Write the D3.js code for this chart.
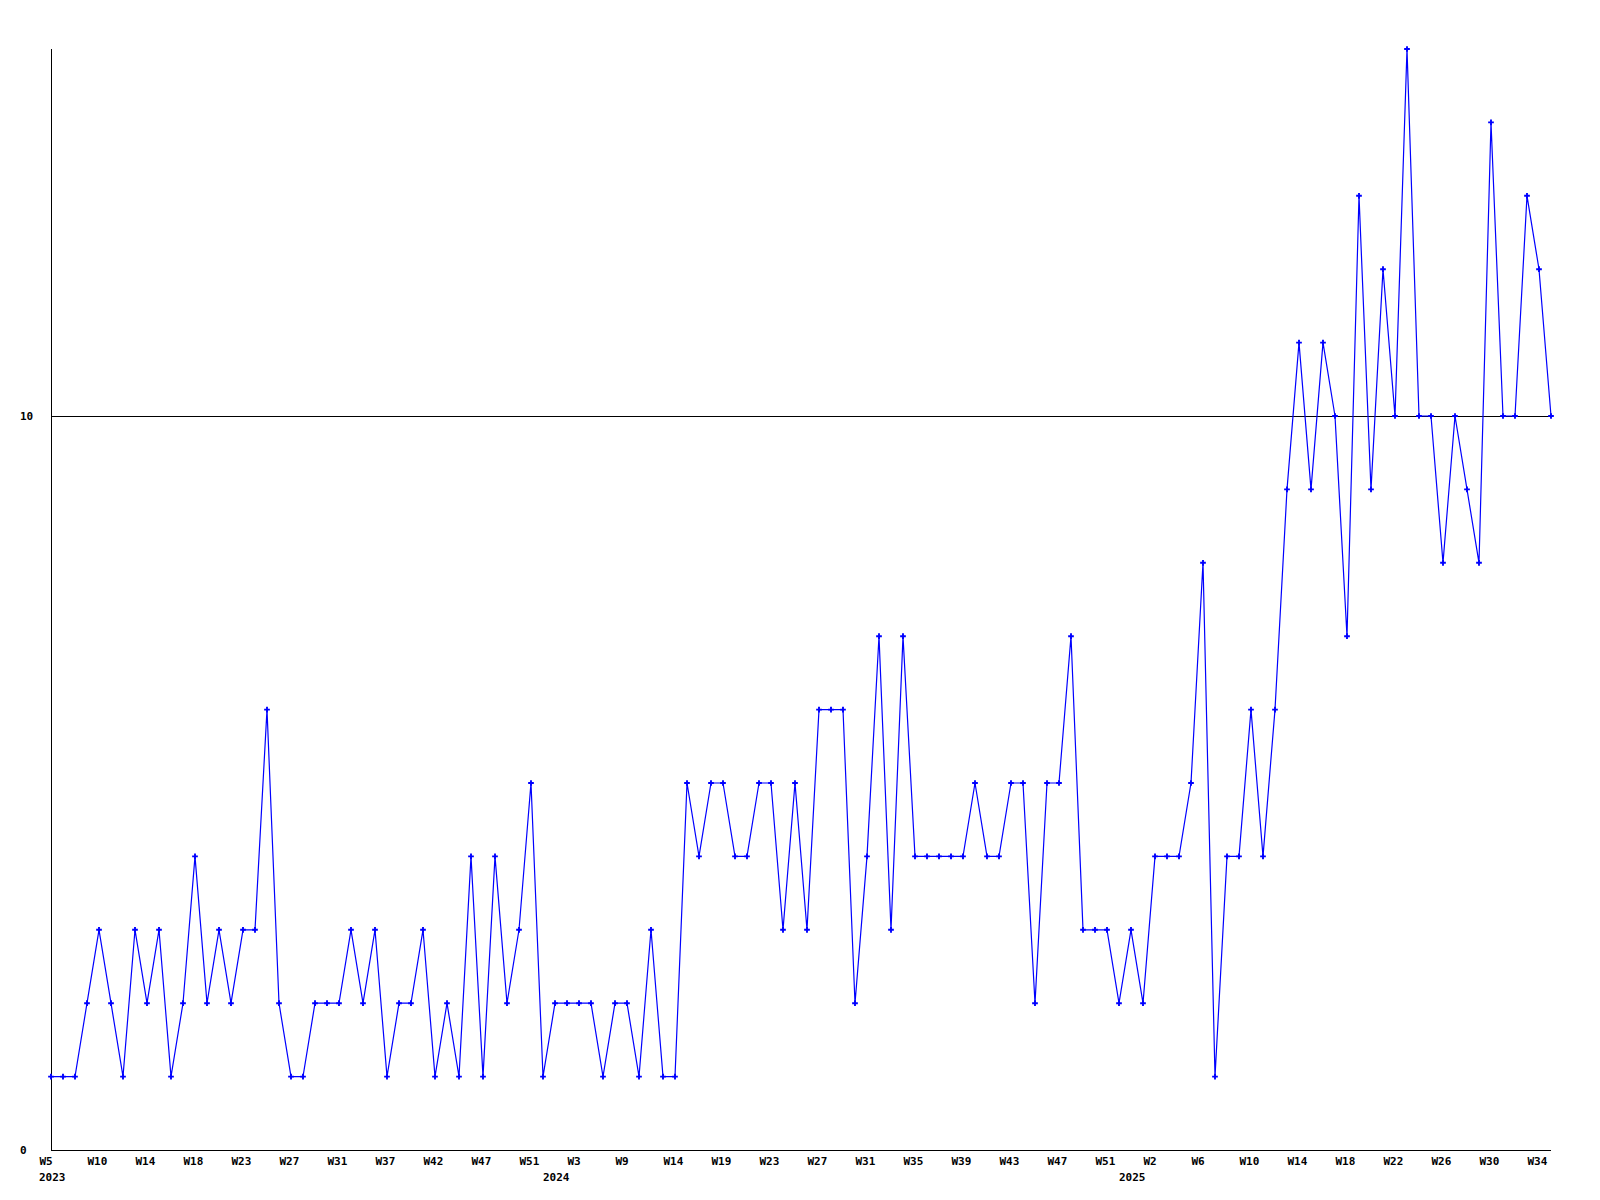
<!DOCTYPE html>
<html><head><meta charset="utf-8">
<script src="https://cdn.jsdelivr.net/npm/d3@7"></script>
<style>
body{margin:0;background:#fff}
text{font-family:"DejaVu Sans Mono","Liberation Mono",monospace;font-weight:bold;font-size:11px;fill:#000}
</style>
</head><body>
<svg id="c" width="1600" height="1200"></svg>
<script>
// Week of each point (year-week)
const weeks = [
"2023-5","2023-6","2023-7","2023-8","2023-10","2023-11","2023-12","2023-13","2023-14","2023-15",
"2023-16","2023-17","2023-18","2023-19","2023-20","2023-21","2023-23","2023-24","2023-25","2023-26",
"2023-27","2023-28","2023-29","2023-30","2023-31","2023-32","2023-33","2023-35","2023-37","2023-38",
"2023-39","2023-40","2023-42","2023-43","2023-44","2023-45","2023-47","2023-48","2023-49","2023-50",
"2023-51","2023-52","2024-1","2024-2","2024-3","2024-4","2024-5","2024-7","2024-9","2024-10",
"2024-11","2024-12","2024-14","2024-15","2024-16","2024-17","2024-19","2024-20","2024-21","2024-22",
"2024-23","2024-24","2024-25","2024-26","2024-27","2024-28","2024-29","2024-30","2024-31","2024-32",
"2024-33","2024-34","2024-35","2024-36","2024-37","2024-38","2024-39","2024-40","2024-41","2024-42",
"2024-43","2024-44","2024-45","2024-46","2024-47","2024-48","2024-49","2024-50","2024-51","2024-52",
"2025-0","2025-1","2025-2","2025-3","2025-4","2025-5","2025-6","2025-7","2025-8","2025-9",
"2025-10","2025-11","2025-12","2025-13","2025-14","2025-15","2025-16","2025-17","2025-18","2025-19",
"2025-20","2025-21","2025-22","2025-23","2025-24","2025-25","2025-26","2025-27","2025-28","2025-29",
"2025-30","2025-31","2025-32","2025-33","2025-34","2025-35"
];
const values = [
1,1,1,2,3,2,1,3,2,3,1,2,4,2,3,2,3,3,6,2,1,
1,2,2,2,3,2,3,1,2,2,3,1,2,1,4,1,4,2,3,5,1,
2,2,2,2,1,2,2,1,3,1,1,5,4,5,5,4,4,5,5,3,5,3,6,
6,6,2,4,7,3,7,4,4,4,4,4,5,4,4,5,5,2,5,5,7,
3,3,3,2,3,2,4,4,4,5,8,1,4,4,6,4,6,9,11,9,11,10,
7,13,9,12,10,15,10,10,8,10,9,8,14,10,10,13,12,10
];
const yTicks = [0, 10];
const yMax = 15;
const labelEvery = 4;

(function(){
const svg = d3.select("#c");
svg.append("rect").attr("width",1600).attr("height",1200).attr("fill","#fff");

const pL = 51, pR = 1551, pT = 49, pB = 1150;
const x = d3.scalePoint().domain(weeks).range([pL, pR]);
const y = d3.scaleLinear().domain([0, yMax]).range([pB, pT]);

// grid line at 10
yTicks.filter(t => t > 0).forEach(t => {
  svg.append("line").attr("x1", pL).attr("x2", pR)
    .attr("y1", Math.round(y(t)) + 0.5).attr("y2", Math.round(y(t)) + 0.5)
    .attr("stroke", "#000").attr("stroke-width", 1).attr("shape-rendering","crispEdges");
});

// y axis
const yAxis = d3.axisLeft(y).tickValues(yTicks).tickSize(0).tickFormat(d3.format("d"));
const gy = svg.append("g").attr("transform", `translate(${pL},0)`).call(yAxis);
gy.select(".domain").remove();
gy.attr("font-family", null).attr("font-size", null);
gy.selectAll("text").attr("text-anchor","start").attr("x", 20 - pL).attr("dy","0.35em");
svg.append("line").attr("x1", pL + 0.5).attr("x2", pL + 0.5).attr("y1", pT).attr("y2", pB)
  .attr("stroke", "#000").attr("stroke-width", 1).attr("shape-rendering","crispEdges");

// x axis
const tickWeeks = weeks.filter((w, i) => i % labelEvery === 0);
const xAxis = d3.axisBottom(x).tickValues(tickWeeks).tickSize(0).tickFormat(w => "W" + w.split("-")[1]);
const gx = svg.append("g").attr("transform", `translate(0,${pB})`).call(xAxis);
gx.select(".domain").remove();
gx.attr("font-family", null).attr("font-size", null);
gx.selectAll("text").attr("text-anchor","start").attr("dx", -12).attr("y", 15).attr("dy","0");
svg.append("line").attr("x1", pL).attr("x2", pR).attr("y1", pB + 0.5).attr("y2", pB + 0.5)
  .attr("stroke", "#000").attr("stroke-width", 1).attr("shape-rendering","crispEdges");

// year labels at first point of each year
const firstOfYear = weeks.filter((w, i) => i === 0 || w.split("-")[0] !== weeks[i-1].split("-")[0]);
svg.append("g").selectAll("text").data(firstOfYear).join("text")
  .attr("x", d => x(d) - 12).attr("y", pB + 31)
  .text(d => d.split("-")[0]);

// line
const data = weeks.map((w, i) => ({w, v: values[i]}));
svg.append("path").datum(data)
  .attr("fill","none").attr("stroke","#0000ff").attr("stroke-width",1.2)
  .attr("d", d3.line().x(d => x(d.w)).y(d => y(d.v)));

// markers
svg.append("g").selectAll("path").data(data).join("path")
  .attr("transform", d => `translate(${x(d.w)},${y(d.v)})`)
  .attr("d", d3.symbol(d3.symbolCross, 18)())
  .attr("fill","#0000ff");
})();
</script>
</body></html>
